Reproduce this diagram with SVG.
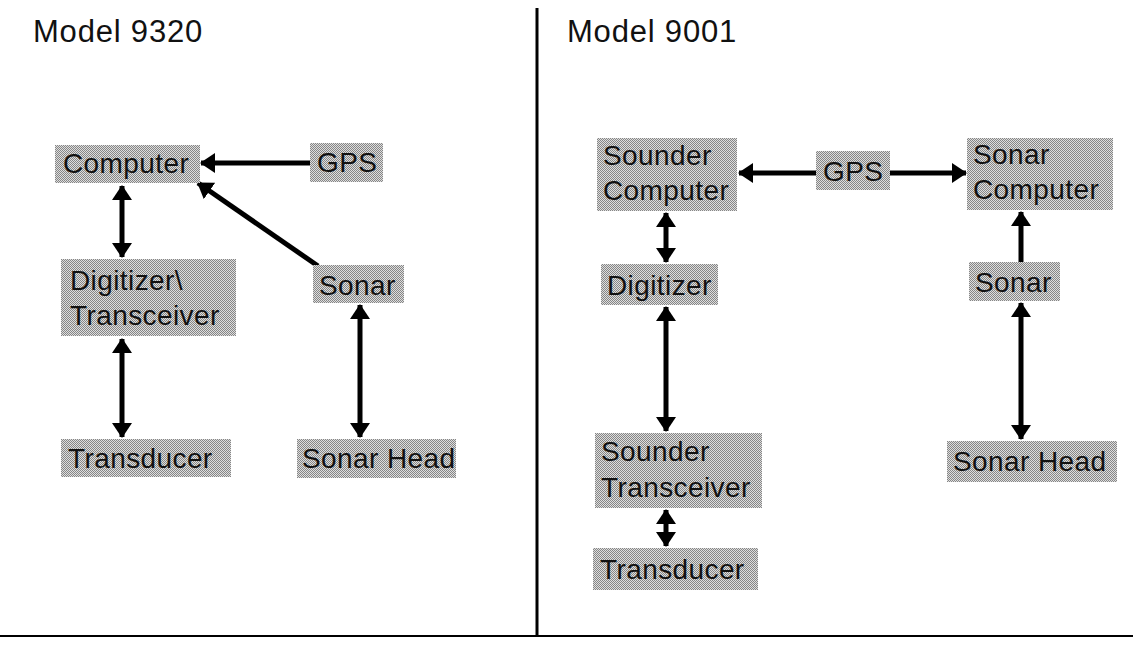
<svg xmlns="http://www.w3.org/2000/svg" width="1133" height="645" viewBox="0 0 1133 645">
  <style>
    .box { fill: url(#dither); }
    .lbl { font-family: "Liberation Sans", Arial, sans-serif; font-size: 28px; letter-spacing: 0.4px; fill: #111; }
    .title { font-family: "Liberation Sans", Arial, sans-serif; font-size: 31px; letter-spacing: 0.8px; fill: #111; }
    .link { stroke: #000; stroke-width: 5; fill: none; }
    .frame { stroke: #000; fill: none; }
  </style>
  <defs>
    <!-- 2x2 halftone used for the node backgrounds -->
    <pattern id="dither" width="2" height="2" patternUnits="userSpaceOnUse">
      <rect width="2" height="2" fill="#dedede"/>
      <rect x="0" y="0" width="1" height="1" fill="#868686"/>
      <rect x="1" y="1" width="1" height="1" fill="#868686"/>
    </pattern>
    <marker id="head" viewBox="0 0 15 20" refX="14" refY="10" markerWidth="15" markerHeight="20" markerUnits="userSpaceOnUse" orient="auto-start-reverse">
      <path d="M0,0 L15,10 L0,20 Z" fill="#000"/>
    </marker>
  </defs>

  <rect width="1133" height="645" fill="#fff"/>

  <!-- panel frame -->
  <g id="frame">
    <line class="frame" x1="537" y1="8" x2="537" y2="637" stroke-width="3"/>
    <line class="frame" x1="0" y1="636" x2="1133" y2="636" stroke-width="2"/>
  </g>

  <text class="title" x="33" y="42">Model 9320</text>
  <text class="title" x="567" y="42">Model 9001</text>

  <!-- connectors -->
  <g id="connectors">
    <!-- Model 9320 -->
    <line class="link" x1="310" y1="163" x2="201" y2="163" stroke-width="4" marker-end="url(#head)"/>
    <line class="link" x1="318" y1="266" x2="198" y2="183" stroke-width="7" marker-end="url(#head)"/>
    <line class="link" x1="122" y1="186" x2="122" y2="257" marker-start="url(#head)" marker-end="url(#head)"/>
    <line class="link" x1="122" y1="339" x2="122" y2="437" marker-start="url(#head)" marker-end="url(#head)"/>
    <line class="link" x1="360" y1="305" x2="360" y2="437" marker-start="url(#head)" marker-end="url(#head)"/>
    <!-- Model 9001 -->
    <line class="link" x1="816" y1="173" x2="739" y2="173" stroke-width="4" marker-end="url(#head)"/>
    <line class="link" x1="890" y1="173" x2="966" y2="173" stroke-width="4" marker-end="url(#head)"/>
    <line class="link" x1="666" y1="213" x2="666" y2="262" marker-start="url(#head)" marker-end="url(#head)"/>
    <line class="link" x1="666" y1="307" x2="666" y2="431" marker-start="url(#head)" marker-end="url(#head)"/>
    <line class="link" x1="666" y1="510" x2="666" y2="546" marker-start="url(#head)" marker-end="url(#head)"/>
    <line class="link" x1="1021" y1="262" x2="1021" y2="212" marker-end="url(#head)"/>
    <line class="link" x1="1021" y1="303" x2="1021" y2="439" marker-start="url(#head)" marker-end="url(#head)"/>
  </g>

  <!-- Model 9320 nodes -->
  <g id="l-computer">
    <rect class="box" x="55" y="145" width="145" height="38"/>
    <text class="lbl" x="63" y="173">Computer</text>
  </g>
  <g id="l-gps">
    <rect class="box" x="310" y="143" width="73" height="39"/>
    <text class="lbl" x="317" y="172">GPS</text>
  </g>
  <g id="l-digitizer">
    <rect class="box" x="61" y="259" width="175" height="77"/>
    <text class="lbl" x="70" y="290">Digitizer\</text>
    <text class="lbl" x="70" y="325">Transceiver</text>
  </g>
  <g id="l-sonar">
    <rect class="box" x="313" y="265" width="91" height="38"/>
    <text class="lbl" x="319" y="295">Sonar</text>
  </g>
  <g id="l-transducer">
    <rect class="box" x="61" y="439" width="170" height="38"/>
    <text class="lbl" x="68" y="468">Transducer</text>
  </g>
  <g id="l-sonarhead">
    <rect class="box" x="297" y="439" width="159" height="39"/>
    <text class="lbl" x="302" y="468" letter-spacing="0">Sonar Head</text>
  </g>

  <!-- Model 9001 nodes -->
  <g id="r-sounder-computer">
    <rect class="box" x="597" y="138" width="140" height="73"/>
    <text class="lbl" x="603" y="165">Sounder</text>
    <text class="lbl" x="603" y="200">Computer</text>
  </g>
  <g id="r-gps">
    <rect class="box" x="816" y="151" width="74" height="39"/>
    <text class="lbl" x="823" y="181">GPS</text>
  </g>
  <g id="r-sonar-computer">
    <rect class="box" x="967" y="138" width="146" height="72"/>
    <text class="lbl" x="973" y="164">Sonar</text>
    <text class="lbl" x="973" y="199">Computer</text>
  </g>
  <g id="r-digitizer">
    <rect class="box" x="601" y="264" width="117" height="41"/>
    <text class="lbl" x="607" y="295">Digitizer</text>
  </g>
  <g id="r-sonar">
    <rect class="box" x="969" y="262" width="91" height="39"/>
    <text class="lbl" x="975" y="292">Sonar</text>
  </g>
  <g id="r-sounder-transceiver">
    <rect class="box" x="595" y="433" width="167" height="75"/>
    <text class="lbl" x="601" y="461">Sounder</text>
    <text class="lbl" x="601" y="497">Transceiver</text>
  </g>
  <g id="r-transducer">
    <rect class="box" x="593" y="548" width="165" height="42"/>
    <text class="lbl" x="600" y="579">Transducer</text>
  </g>
  <g id="r-sonarhead">
    <rect class="box" x="947" y="441" width="170" height="41"/>
    <text class="lbl" x="953" y="471">Sonar Head</text>
  </g>
</svg>
